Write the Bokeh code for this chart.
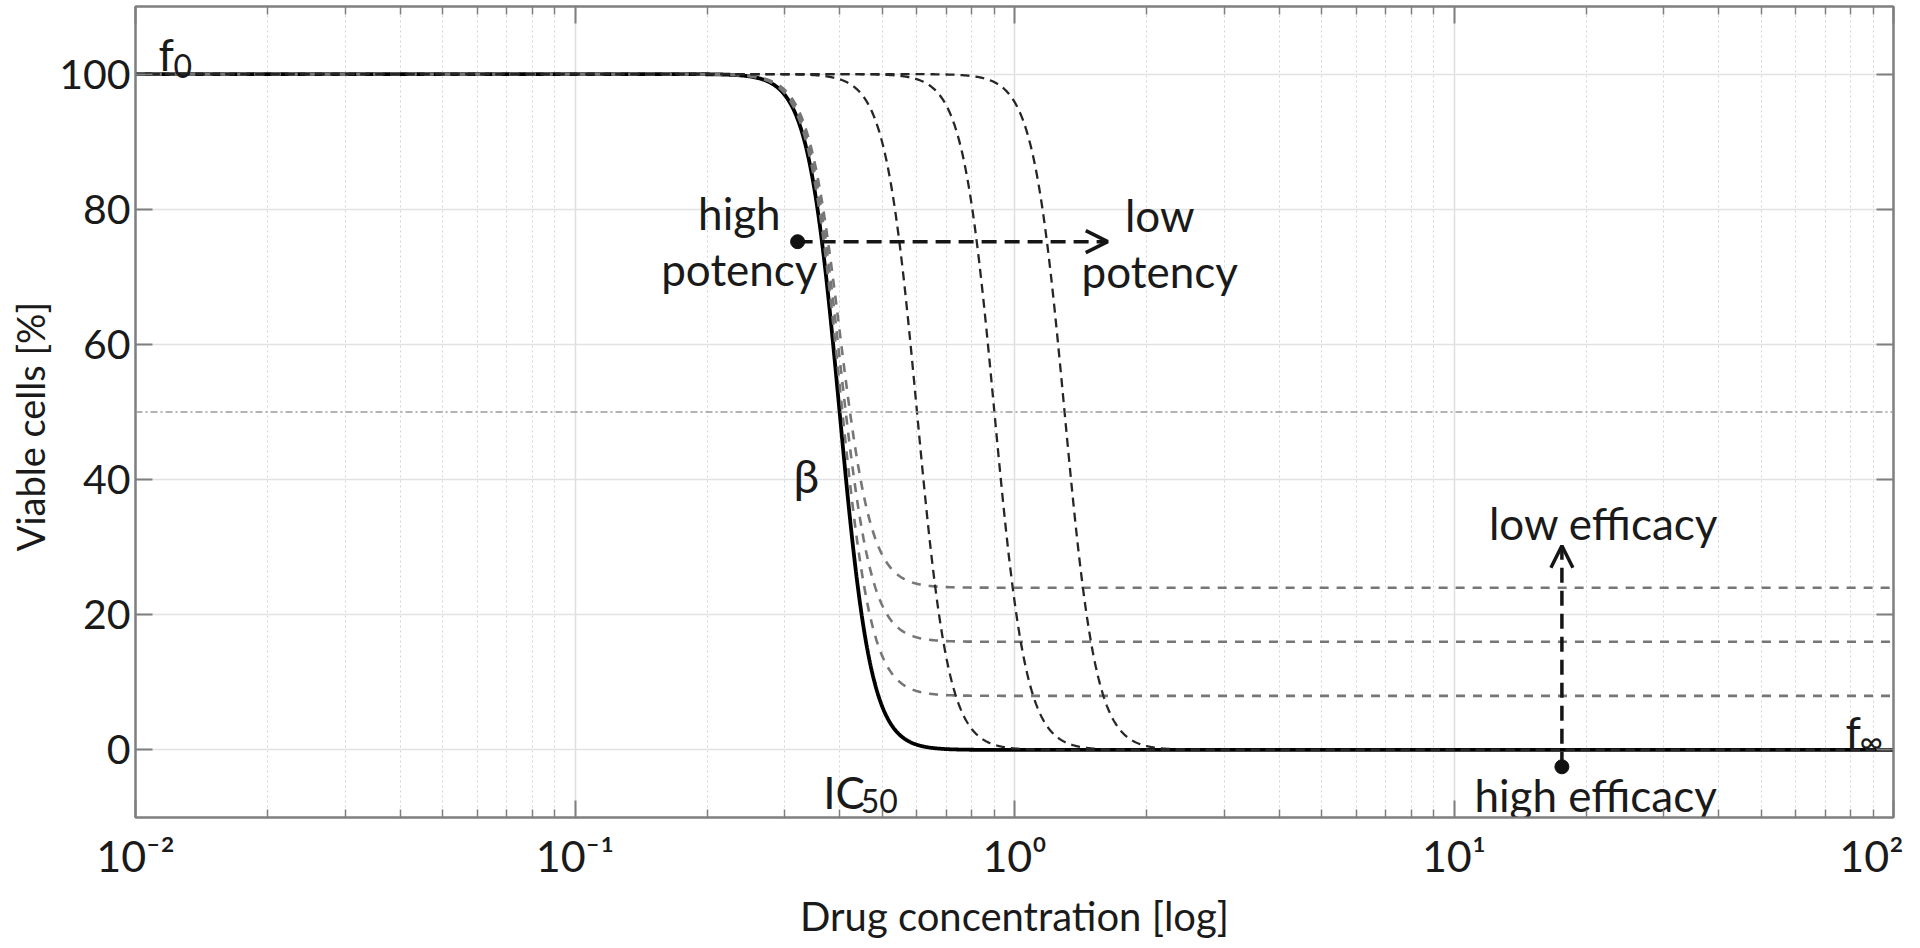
import numpy as np
from bokeh.plotting import figure
from bokeh.models import FixedTicker, LinearAxis, LogAxis, Span, Arrow, OpenHead
from bokeh.core.properties import value
from bokeh.embed import file_html
from bokeh.resources import INLINE

# ---------------- data ----------------
x_ticks = [0.01, 0.1, 1, 10, 100]
x_tick_labels = ["10\u207b\u00b2", "10\u207b\u00b9", "10\u2070", "10\u00b9", "10\u00b2"]
y_ticks = [0, 20, 40, 60, 80, 100]
y_tick_labels = ["0", "20", "40", "60", "80", "100"]

f0 = 100                      # top plateau
hill_beta = 12                # steepness
ic50_main = 0.4               # solid reference curve
f_inf_main = 0
ic50_potency = [0.6, 0.9, 1.3]        # shifted (low potency) curves
f_inf_efficacy = [8, 16, 24]          # raised-bottom (low efficacy) curves
half_level = 50

potency_arrow_x = [0.321, 1.63]
potency_arrow_y = 75.2
efficacy_arrow_x = 17.6
efficacy_arrow_y = [-2.5, 30.2]

FONT = "Lato"
TXT = "#1a1a1a"
AX = "#7f7f7f"

minor = [m * d for d in [0.01, 0.1, 1, 10] for m in range(2, 10)]

p = figure(x_axis_type="log", x_range=(0.01, 100), y_range=(-10, 110),
           frame_width=1758, frame_height=811,
           min_border_left=135, min_border_right=10, min_border_top=6, min_border_bottom=100,
           output_backend="svg", toolbar_location=None,
           background_fill_color="white", border_fill_color="white")
p.outline_line_color = AX
p.outline_line_width = 2

# ---------------- axes ----------------
xt = FixedTicker(ticks=x_ticks, minor_ticks=minor)
yt = FixedTicker(ticks=y_ticks, minor_ticks=[])
p.xaxis.ticker = xt
p.yaxis.ticker = yt
p.xaxis.major_label_overrides = {t: l for t, l in zip(x_ticks, x_tick_labels)}
p.yaxis.major_label_overrides = {t: l for t, l in zip(y_ticks, y_tick_labels)}
p.xaxis.axis_label = "Drug concentration [log]"
# trailing no-break spaces move the visible title slightly below the frame centre, as in the reference
p.yaxis.axis_label = "Viable cells [%]" + "\u00a0" * 3


def style_ticks(ax):
    ax.axis_line_color = AX
    ax.axis_line_width = 2
    ax.major_tick_in = 17
    ax.major_tick_out = 0
    ax.minor_tick_in = 8
    ax.minor_tick_out = 0
    ax.major_tick_line_color = AX
    ax.major_tick_line_width = 2
    ax.minor_tick_line_color = AX
    ax.minor_tick_line_width = 1.5


for ax in [p.xaxis[0], p.yaxis[0]]:
    style_ticks(ax)
    ax.major_label_text_font = FONT
    ax.major_label_text_font_size = "41px"
    ax.major_label_text_color = TXT
    ax.axis_label_text_font = FONT
    ax.axis_label_text_font_size = "40px"
    ax.axis_label_text_font_style = "normal"
    ax.axis_label_text_color = TXT
p.xaxis.major_label_text_font_size = "43px"
p.yaxis.axis_label_text_font_size = "38px"
p.yaxis.minor_tick_line_color = None
p.xaxis.major_label_standoff = 12
p.xaxis.axis_label_standoff = 8
p.yaxis.major_label_standoff = 5
p.yaxis.axis_label_standoff = 3

top = LogAxis(ticker=FixedTicker(ticks=x_ticks, minor_ticks=minor))
right = LinearAxis(ticker=FixedTicker(ticks=y_ticks, minor_ticks=[]))
for ax in [top, right]:
    style_ticks(ax)
    ax.major_label_text_font_size = "1px"
    ax.major_label_text_color = None
    ax.major_label_standoff = 0
right.minor_tick_line_color = None
p.add_layout(top, "above")
p.add_layout(right, "right")

# ---------------- grid ----------------
p.xgrid.ticker = xt
p.ygrid.ticker = yt
p.xgrid.grid_line_color = "#dedede"
p.xgrid.grid_line_width = 1.5
p.xgrid.minor_grid_line_color = "#d4d4d4"
p.xgrid.minor_grid_line_dash = "2 3"
p.xgrid.minor_grid_line_width = 1
p.ygrid.grid_line_color = "#e2e2e2"
p.ygrid.grid_line_width = 1.5

p.add_layout(Span(location=half_level, dimension="width", line_color="#9a9a9a",
                  line_width=1.5, line_dash="7 3 2 3"))

# ---------------- curves (Hill model with parameters) ----------------
xs = np.logspace(-2, 2, 3000)


def hill(x, ic50, f_inf, top_=f0, beta=hill_beta):
    return f_inf + (top_ - f_inf) / (1.0 + (x / ic50) ** beta)


p.line(xs, hill(xs, ic50_main, f_inf_main), line_color="black", line_width=3.8)
for fi in f_inf_efficacy:
    p.line(xs, hill(xs, ic50_main, fi), line_color="#767676", line_width=2.6, line_dash="9 8")
for ic in ic50_potency:
    p.line(xs, hill(xs, ic, f_inf_main), line_color="#262626", line_width=2.3, line_dash="9 6")

# ---------------- arrows ----------------
p.segment(x0=[potency_arrow_x[0], efficacy_arrow_x], y0=[potency_arrow_y, efficacy_arrow_y[0]],
          x1=[potency_arrow_x[1], efficacy_arrow_x], y1=[potency_arrow_y, efficacy_arrow_y[1]],
          line_color="#151515", line_width=3.5, line_dash="15 8")
p.add_layout(Arrow(end=OpenHead(size=22, line_width=3.5, line_color="#151515"),
                   x_start=potency_arrow_x[0], y_start=potency_arrow_y,
                   x_end=potency_arrow_x[1], y_end=potency_arrow_y,
                   line_color=None))
p.add_layout(Arrow(end=OpenHead(size=22, line_width=3.5, line_color="#151515"),
                   x_start=efficacy_arrow_x, y_start=efficacy_arrow_y[0],
                   x_end=efficacy_arrow_x, y_end=efficacy_arrow_y[1],
                   line_color=None))
p.scatter([potency_arrow_x[0], efficacy_arrow_x], [potency_arrow_y, efficacy_arrow_y[0]],
          size=14, color="#111111")

# ---------------- annotations ----------------
ann_text = ["high", "potency", "low", "potency", "low efficacy", "high efficacy"]
ann_x = [0.2366, 0.2366, 2.14, 2.14, 21.9, 21.0]
ann_y = [79.4, 71.2, 79.2, 70.8, 33.6, -6.7]
p.text(ann_x, ann_y, text=ann_text, text_font=value(FONT), text_font_size="44px",
       text_color=TXT, text_align="center", text_baseline="alphabetic")

p.text([0.336], [40.6], text=["\u03b2"], text_font=value(FONT), text_font_size="46px",
       text_color=TXT, text_align="center", text_baseline="middle")

main_txt = ["f", "f", "IC"]
main_x = [0.01128, 77.8, 0.367]
main_y = [103.0, 2.6, -6.2]
p.text(main_x, main_y, text=main_txt, text_font=value(FONT), text_font_size="44px",
       text_color=TXT, text_align="left", text_baseline="alphabetic")
sub_txt = ["0", "\u221e", "50"]
sub_x = [0.0122, 83.7, 0.447]
sub_y = [101.2, 1.4, -7.6]
p.text(sub_x, sub_y, text=sub_txt, text_font=value(FONT), text_font_size="32px",
       text_color=TXT, text_align="left", text_baseline="alphabetic")

open("out.html", "w").write(file_html(p, INLINE))
